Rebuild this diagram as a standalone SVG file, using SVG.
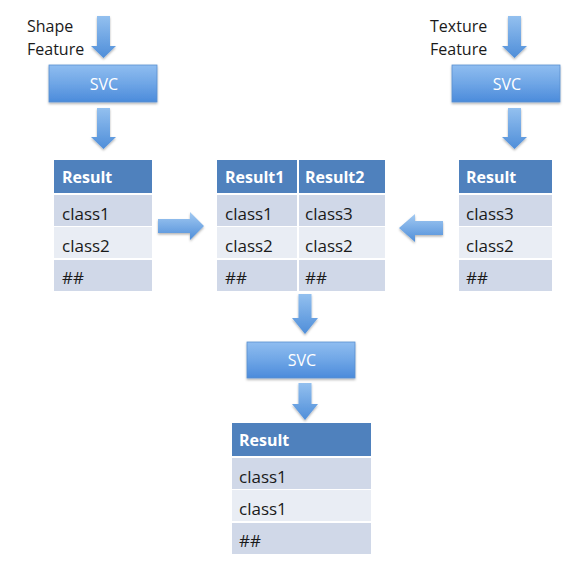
<svg xmlns="http://www.w3.org/2000/svg" width="588" height="583" viewBox="0 0 588 583">
<defs>
<linearGradient id="gBox" x1="0" y1="0" x2="0" y2="1">
<stop offset="0" stop-color="#8fbdf0"/>
<stop offset="0.5" stop-color="#6fa6e6"/>
<stop offset="1" stop-color="#4b8bdb"/>
</linearGradient>
<linearGradient id="gArrV" x1="0" y1="0" x2="0" y2="1">
<stop offset="0" stop-color="#93c0ef"/>
<stop offset="1" stop-color="#4f8ed9"/>
</linearGradient>
<linearGradient id="gArrH" x1="0" y1="0" x2="0" y2="1">
<stop offset="0" stop-color="#a3caf2"/>
<stop offset="1" stop-color="#4f8ed9"/>
</linearGradient>
<filter id="sh" x="-20%" y="-20%" width="140%" height="150%">
<feDropShadow dx="0" dy="1.5" stdDeviation="1.2" flood-color="#000" flood-opacity="0.3"/>
</filter>
</defs>
<style>
text{font-family:"Open Sans","Liberation Sans",sans-serif;font-size:17px;fill:#1a1a1a}
.lbl{font-size:16px}
.svc{fill:#ffffff;font-size:16px;text-anchor:middle}
.hdr{fill:#ffffff;font-weight:bold;font-size:16px}
.box{fill:url(#gBox);stroke:#5a8fd0;stroke-width:0.8;filter:url(#sh)}
.h{fill:#4f81bd}
.r1{fill:#d0d8e8}
.r2{fill:#e9edf4}
.arr{fill:url(#gArrV);filter:url(#sh)}
.arrh{fill:url(#gArrH);filter:url(#sh)}
.sep{stroke:#ffffff;stroke-width:2}
</style>
<rect width="588" height="583" fill="#ffffff"/>

<g id="connectors">
<path class="arr" d="M97,16 H110 V46 H116 L103.5,58 L91,46 H97 Z"/>
<path class="arr" d="M97,108 H110 V137 H116 L103.5,149 L91,137 H97 Z"/>
<path class="arr" d="M508,16 H521 V46 H527 L514.5,58 L502,46 H508 Z"/>
<path class="arr" d="M508,108 H521 V137 H527 L514.5,149 L502,137 H508 Z"/>
<path class="arr" d="M298.5,294 H311.5 V318 H318 L305,334 L292,318 H298.5 Z"/>
<path class="arr" d="M298.5,383 H311.5 V404 H318 L305,420 L292,404 H298.5 Z"/>
<path class="arrh" d="M158,219 H190 V212 L204,226 L190,240 V233 H158 Z"/>
<path class="arrh" d="M443,221 H415 V214 L399,228 L415,242 V235 H443 Z"/>
</g>

<g id="shape-feature">
<text class="lbl" x="27" y="32">Shape</text>
<text class="lbl" x="27" y="55">Feature</text>
</g>
<g id="texture-feature">
<text class="lbl" x="430" y="32">Texture</text>
<text class="lbl" x="430" y="55">Feature</text>
</g>

<g id="svc-left">
<rect class="box" x="49" y="65" width="108" height="37"/>
<text class="svc" x="104" y="90">SVC</text>
</g>
<g id="svc-right">
<rect class="box" x="452" y="65" width="108" height="37"/>
<text class="svc" x="507" y="90">SVC</text>
</g>
<g id="svc-bottom">
<rect class="box" x="247" y="342" width="108" height="36"/>
<text class="svc" x="302" y="366">SVC</text>
</g>

<g id="table-left">
<rect class="h" x="54" y="160" width="98" height="33"/>
<rect class="r1" x="54" y="195" width="98" height="31"/>
<rect class="r2" x="54" y="227" width="98" height="31"/>
<rect class="r1" x="54" y="260" width="98" height="31"/>
<text class="hdr" x="62" y="183">Result</text>
<text x="62" y="220">class1</text>
<text x="62" y="252">class2</text>
<text x="62" y="284">##</text>
</g>

<g id="table-middle">
<rect class="h" x="217" y="160" width="168" height="33"/>
<rect class="r1" x="217" y="195" width="168" height="31"/>
<rect class="r2" x="217" y="227" width="168" height="31"/>
<rect class="r1" x="217" y="260" width="168" height="31"/>
<line class="sep" x1="298" y1="160" x2="298" y2="291"/>
<text class="hdr" x="225" y="183">Result1</text>
<text class="hdr" x="305" y="183">Result2</text>
<text x="225" y="220">class1</text>
<text x="305" y="220">class3</text>
<text x="225" y="252">class2</text>
<text x="305" y="252">class2</text>
<text x="225" y="284">##</text>
<text x="305" y="284">##</text>
</g>

<g id="table-right">
<rect class="h" x="459" y="160" width="93" height="33"/>
<rect class="r1" x="459" y="195" width="93" height="31"/>
<rect class="r2" x="459" y="227" width="93" height="31"/>
<rect class="r1" x="459" y="260" width="93" height="31"/>
<text class="hdr" x="466" y="183">Result</text>
<text x="466" y="220">class3</text>
<text x="466" y="252">class2</text>
<text x="466" y="284">##</text>
</g>

<g id="table-bottom">
<rect class="h" x="232" y="423" width="139" height="33"/>
<rect class="r1" x="232" y="458" width="139" height="31"/>
<rect class="r2" x="232" y="490" width="139" height="31"/>
<rect class="r1" x="232" y="523" width="139" height="31"/>
<text class="hdr" x="239" y="446">Result</text>
<text x="239" y="483">class1</text>
<text x="239" y="515">class1</text>
<text x="239" y="547">##</text>
</g>
</svg>
